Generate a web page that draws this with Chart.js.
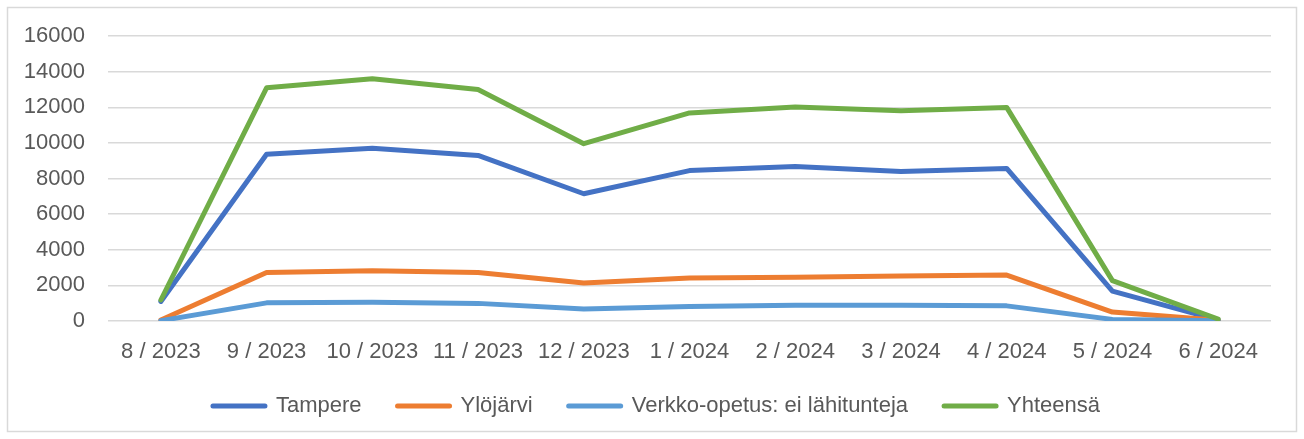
<!DOCTYPE html>
<html>
<head>
<meta charset="utf-8">
<script src="https://cdn.jsdelivr.net/npm/chart.js@4"></script>
<style>
  html, body { margin: 0; padding: 0; background: #fff; }
  #wrap { position: relative; width: 1304px; height: 439px; }
</style>
</head>
<body>
<div id="wrap"><canvas id="lineChart"></canvas></div>
<script>
const categories = ['8 / 2023', '9 / 2023', '10 / 2023', '11 / 2023', '12 / 2023', '1 / 2024', '2 / 2024', '3 / 2024', '4 / 2024', '5 / 2024', '6 / 2024'];
const tampere = [1100, 9370, 9700, 9300, 7150, 8450, 8680, 8400, 8570, 1680, 60];
const ylojarvi = [60, 2720, 2820, 2720, 2130, 2420, 2460, 2530, 2580, 500, 40];
const verkko = [20, 1020, 1060, 990, 680, 820, 880, 880, 850, 90, 10];
const yhteensa = [1180, 13100, 13610, 13010, 9960, 11690, 12020, 11810, 12000, 2270, 110];
const yTicks = [0, 2000, 4000, 6000, 8000, 10000, 12000, 14000, 16000];

const textColor = '#595959';
const fontFamily = '"Liberation Sans", Arial, sans-serif';

// outer frame like the office chart border
const frame = {
    id: 'frame',
    beforeDraw(chart) {
        const c = chart.ctx;
        c.save();
        c.fillStyle = '#fff';
        c.fillRect(0, 0, chart.width, chart.height);
        c.strokeStyle = '#d9d9d9';
        c.lineWidth = 1.5;
        c.strokeRect(7.5, 7.5, chart.width - 15, chart.height - 15);
        c.restore();
    },
    // legend is centred a bit right of the canvas middle in the original
    afterLayout(chart) {
        if (chart.legend) chart.legend.left = 42;
    }
};

function series(label, data, color, order) {
    return {
        label: label,
        data: data,
        borderColor: color,
        backgroundColor: color,
        borderWidth: 5,
        pointRadius: 0,
        pointHoverRadius: 0,
        tension: 0,
        borderCapStyle: 'round',
        borderJoinStyle: 'round',
        fill: false,
        order: order
    };
}

const ctx = document.getElementById('lineChart').getContext('2d');
new Chart(ctx, {
    type: 'line',
    data: {
        labels: categories,
        datasets: [
            series('Tampere', tampere, '#4472C4', 4),
            series('Ylöjärvi', ylojarvi, '#ED7D31', 3),
            series('Verkko-opetus: ei lähitunteja', verkko, '#5B9BD5', 2),
            series('Yhteensä', yhteensa, '#70AD47', 1)
        ]
    },
    options: {
        responsive: true,
        maintainAspectRatio: false,
        animation: false,
        layout: {
            padding: { top: 36, right: 33, left: 0, bottom: 12 }
        },
        plugins: {
            legend: {
                position: 'bottom',
                labels: {
                    usePointStyle: true,
                    pointStyle: 'line',
                    pointStyleWidth: 52,
                    padding: 36,
                    color: textColor,
                    font: { family: fontFamily, size: 22 },
                    generateLabels: function(chart) {
                        return chart.data.datasets.map((ds, i) => ({
                            text: ds.label,
                            fillStyle: ds.borderColor,
                            strokeStyle: ds.borderColor,
                            lineWidth: 5,
                            lineCap: 'round',
                            pointStyle: 'line',
                            fontColor: textColor,
                            datasetIndex: i,
                            hidden: false
                        }));
                    }
                }
            },
            tooltip: { enabled: false }
        },
        scales: {
            x: {
                offset: true,
                grid: { display: false },
                border: { display: false },
                ticks: {
                    color: textColor,
                    font: { family: fontFamily, size: 22 },
                    padding: 10,
                    maxRotation: 0,
                    autoSkip: false
                },
                afterFit: function(scale) { scale.height = 38; }
            },
            y: {
                min: 0,
                max: 16000,
                grid: { color: '#d9d9d9', lineWidth: 1.5, drawTicks: false },
                border: { display: false },
                afterBuildTicks: function(scale) {
                    scale.ticks = yTicks.map(v => ({ value: v }));
                },
                ticks: {
                    color: textColor,
                    font: { family: fontFamily, size: 22 },
                    padding: 23,
                    callback: function(value) { return String(value); }
                },
                afterFit: function(scale) { scale.width = 108; }
            }
        }
    },
    plugins: [frame]
});
</script>
</body>
</html>
